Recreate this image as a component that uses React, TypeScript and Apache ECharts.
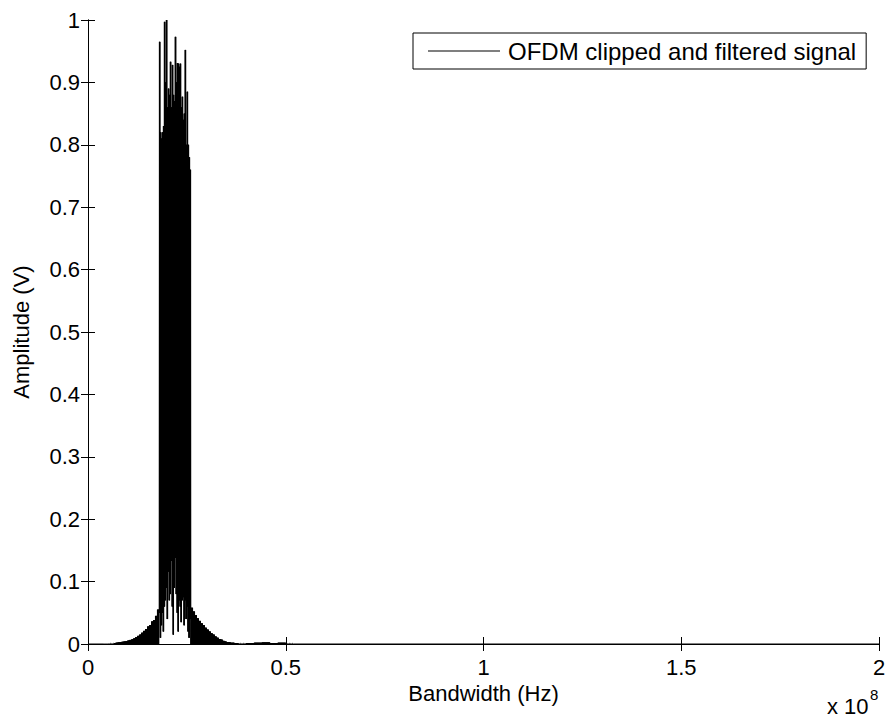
import React, { useEffect, useRef } from "react";
import * as echarts from "echarts";

// Frequency in units of 1e8 Hz, amplitude in V
const seriesName = "OFDM clipped and filtered signal";
const xMin = 0;
const xMax = 2;
const xInterval = 0.5;
const yMin = 0;
const yMax = 1;
const yInterval = 0.1;
const xExponentLabel = "x 10";
const xExponentPower = "8";

// left spectral skirt (outside the main band), upper envelope
const leftSkirtFreq = [
  0.04, 0.05, 0.055, 0.06, 0.065, 0.07, 0.075, 0.08, 0.085, 0.09, 0.095, 0.1,
  0.105, 0.11, 0.115, 0.12, 0.125, 0.13, 0.135, 0.14, 0.145, 0.15, 0.155, 0.16,
  0.165, 0.17, 0.175,
];
const leftSkirtAmp = [
  0.0, 0.0005, 0.001, 0.001, 0.0015, 0.002, 0.0025, 0.003, 0.0035, 0.004, 0.0045,
  0.0055, 0.0065, 0.0075, 0.009, 0.011, 0.013, 0.015, 0.018, 0.021, 0.024, 0.028,
  0.03, 0.036, 0.038, 0.045, 0.055,
];

// main band: upper and lower envelope
const bandFreq = [
  0.18, 0.1825, 0.185, 0.1875, 0.19, 0.1925, 0.195, 0.1975, 0.2, 0.2025, 0.205,
  0.2075, 0.21, 0.2125, 0.215, 0.2175, 0.22, 0.2225, 0.225, 0.2275, 0.23, 0.2325,
  0.235, 0.2375, 0.24, 0.2425, 0.245, 0.2475, 0.25, 0.2525, 0.255, 0.2575,
];
const bandUpper = [
  0.965, 0.82, 0.81, 0.82, 0.83, 0.997, 0.9, 1.0, 0.86, 0.89, 0.88, 0.933, 0.86,
  0.928, 0.88, 0.87, 0.973, 0.9, 0.931, 0.93, 0.925, 0.93, 0.86, 0.877, 0.84,
  0.85, 0.952, 0.8, 0.885, 0.8, 0.78, 0.76,
];
const bandLower = [
  0.05, 0.01, 0.03, 0.05, 0.02, 0.06, 0.07, 0.09, 0.04, 0.116, 0.07, 0.08, 0.133,
  0.06, 0.015, 0.09, 0.138, 0.08, 0.05, 0.02, 0.07, 0.06, 0.035, 0.07, 0.075,
  0.03, 0.07, 0.04, 0.06, 0.02, 0.01, 0.04,
];

// right spectral skirt, upper envelope
const rightSkirtFreq = [
  0.26, 0.265, 0.27, 0.275, 0.28, 0.285, 0.29, 0.295, 0.3, 0.305, 0.31, 0.315,
  0.32, 0.325, 0.33, 0.335, 0.34, 0.345, 0.35, 0.355, 0.36, 0.37, 0.38, 0.39,
  0.4, 0.42, 0.44, 0.46, 0.48, 0.5, 0.52,
];
const rightSkirtAmp = [
  0.058, 0.052, 0.046, 0.041, 0.037, 0.033, 0.03, 0.026, 0.023, 0.02, 0.017,
  0.015, 0.012, 0.01, 0.008, 0.007, 0.005, 0.004, 0.003, 0.003, 0.002, 0.0015,
  0.001, 0.001, 0.0015, 0.002, 0.0025, 0.0015, 0.002, 0.001, 0.0,
];

const FONT = "'Liberation Sans', Arial, Helvetica, sans-serif";

function buildData(): number[][] {
  const f = [...leftSkirtFreq, ...bandFreq, ...rightSkirtFreq];
  const up = [...leftSkirtAmp, ...bandUpper, ...rightSkirtAmp];
  const lo = [...leftSkirtAmp.map(() => 0), ...bandLower, ...rightSkirtAmp.map(() => 0)];
  const pts: number[][] = [[xMin, 0]];
  const q = 0.000625;
  for (let i = 0; i < f.length - 1; i++) {
    const span = f[i + 1] - f[i];
    const n = Math.max(2, Math.round(span / q));
    for (let k = 0; k < n; k++) {
      pts.push([f[i] + (k * span) / n, k % 2 === 0 ? lo[i] : up[i]]);
    }
  }
  pts.push([f[f.length - 1], 0]);
  pts.push([xMax, 0]);
  return pts;
}

export default function App() {
  const ref = useRef<HTMLDivElement>(null);
  useEffect(() => {
    if (!ref.current) return;
    const chart = echarts.init(ref.current, undefined, { renderer: "svg" });
    const axisCommon = {
      axisLine: { show: true, lineStyle: { color: "#000", width: 1 } },
      axisTick: { show: true, inside: true, length: 7, lineStyle: { color: "#000", width: 1 } },
      splitLine: { show: false },
    };
    chart.setOption({
      animation: false,
      backgroundColor: "#fff",
      textStyle: { fontFamily: FONT },
      grid: { left: 88, right: 10, top: 20, bottom: 76, containLabel: false },
      legend: {
        show: true,
        data: [seriesName],
        left: 413,
        top: 33,
        icon: "rect",
        itemWidth: 72,
        itemHeight: 1,
        padding: [6, 10, 6, 15],
        borderColor: "#000",
        borderWidth: 1,
        backgroundColor: "#fff",
        itemStyle: { color: "#000" },
        textStyle: { fontSize: 24, color: "#000", fontFamily: FONT, padding: [0, 0, 0, 3] },
      },
      xAxis: [
        {
          type: "value",
          min: xMin,
          max: xMax,
          interval: xInterval,
          position: "bottom",
          name: "Bandwidth (Hz)",
          nameLocation: "middle",
          nameGap: 34,
          nameTextStyle: { fontSize: 22, color: "#000", fontFamily: FONT },
          axisLabel: { show: true, fontSize: 22, color: "#000", margin: 12, fontFamily: FONT },
          ...axisCommon,
        },
        {
          type: "value",
          min: xMin,
          max: xMax,
          interval: xInterval,
          position: "top",
          axisLabel: { show: false },
          ...axisCommon,
        },
      ],
      yAxis: [
        {
          type: "value",
          min: yMin,
          max: yMax,
          interval: yInterval,
          position: "left",
          name: "Amplitude (V)",
          nameLocation: "middle",
          nameGap: 56,
          nameTextStyle: { fontSize: 22, color: "#000", fontFamily: FONT },
          axisLabel: { show: true, fontSize: 22, color: "#000", margin: 8, fontFamily: FONT },
          ...axisCommon,
        },
        {
          type: "value",
          min: yMin,
          max: yMax,
          interval: yInterval,
          position: "right",
          axisLabel: { show: false },
          ...axisCommon,
        },
      ],
      series: [
        {
          name: seriesName,
          type: "line",
          xAxisIndex: 0,
          yAxisIndex: 0,
          data: buildData(),
          symbol: "none",
          showSymbol: false,
          sampling: undefined,
          lineStyle: { color: "#000", width: 1 },
          itemStyle: { color: "#000" },
          z: 1,
        },
      ],
      graphic: [
        {
          type: "text",
          left: 827,
          top: 695,
          style: { text: xExponentLabel, fontSize: 22, fill: "#000", fontFamily: FONT },
        },
        {
          type: "text",
          left: 870,
          top: 687,
          style: { text: xExponentPower, fontSize: 15, fill: "#000", fontFamily: FONT },
        },
      ],
    });
    return () => chart.dispose();
  }, []);
  return (
    <div
      ref={ref}
      style={{ position: "fixed", left: 0, top: 0, width: 889, height: 720, background: "#fff" }}
    />
  );
}
